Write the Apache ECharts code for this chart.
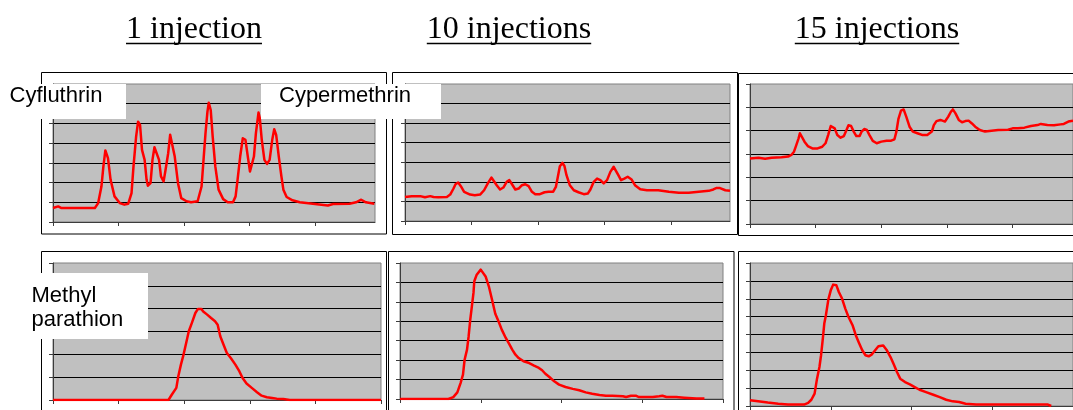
<!DOCTYPE html>
<html>
<head>
<meta charset="utf-8">
<script src="https://cdn.jsdelivr.net/npm/echarts@6/dist/echarts.min.js"></script>
<style>
  html, body { margin: 0; padding: 0; background: #ffffff; }
  #chart { width: 1073px; height: 410px; }
</style>
</head>
<body>
<div id="chart"></div>
<script>
// Column headings (number of injections) and compound labels
const injectionTitles = ['1 injection', '10 injections', '15 injections'];
const compoundLabels = ['Cyfluthrin', 'Cypermethrin', 'Methyl\nparathion'];

// Chromatogram traces: [retention, response]; retention in x-tick units, response in gridline units
const cyfluthrin1 = [[0,0.71],[0.08,0.79],[0.13,0.71],[0.64,0.71],[0.69,0.96],[0.74,1.80],[0.77,2.82],[0.80,3.63],[0.84,3.24],[0.88,2.14],[0.94,1.30],[1.02,0.96],[1.09,0.88],[1.15,0.93],[1.20,1.47],[1.23,2.82],[1.27,4.33],[1.30,5.09],[1.33,4.92],[1.36,3.66],[1.40,3.15],[1.43,2.14],[1.45,1.84],[1.49,1.97],[1.52,3.15],[1.55,3.79],[1.58,3.86],[1.62,3.15],[1.65,2.31],[1.69,2.06],[1.72,2.65],[1.76,3.49],[1.79,4.42],[1.82,4.33],[1.86,3.32],[1.91,1.97],[1.96,1.21],[2.04,1.05],[2.11,1.00],[2.21,1.05],[2.27,1.80],[2.30,3.15],[2.33,4.50],[2.36,5.60],[2.38,6.05],[2.41,5.68],[2.44,4.33],[2.48,2.82],[2.53,1.64],[2.60,1.16],[2.67,1.00],[2.75,1.00],[2.79,1.30],[2.82,2.14],[2.86,3.32],[2.90,4.25],[2.94,4.17],[2.98,3.24],[3.01,2.56],[3.04,2.48],[3.07,3.32],[3.10,4.50],[3.14,5.55],[3.16,5.26],[3.19,4.17],[3.23,3.15],[3.27,2.95],[3.31,3.15],[3.35,4.17],[3.38,4.71],[3.41,4.42],[3.45,3.32],[3.49,2.31],[3.52,1.64],[3.57,1.27],[3.66,1.10],[3.77,1.00],[3.97,0.93],[4.20,0.84],[4.28,0.91],[4.53,0.93],[4.63,1.00],[4.71,1.13],[4.78,1.00],[4.91,0.93]];

const cypermethrin10 = [[0,1.23],[0.10,1.27],[0.23,1.27],[0.30,1.21],[0.38,1.27],[0.43,1.23],[0.50,1.21],[0.63,1.23],[0.68,1.35],[0.73,1.66],[0.76,1.88],[0.80,1.97],[0.84,1.78],[0.89,1.49],[0.98,1.35],[1.05,1.32],[1.13,1.35],[1.19,1.57],[1.25,1.95],[1.30,2.22],[1.33,2.17],[1.38,1.83],[1.43,1.61],[1.48,1.71],[1.53,2.00],[1.57,2.09],[1.61,1.88],[1.66,1.61],[1.71,1.66],[1.76,1.83],[1.81,1.88],[1.86,1.78],[1.91,1.49],[1.96,1.37],[2.03,1.37],[2.10,1.47],[2.16,1.50],[2.23,1.50],[2.27,1.74],[2.30,2.26],[2.33,2.80],[2.37,2.97],[2.40,2.80],[2.43,2.34],[2.48,1.83],[2.54,1.57],[2.61,1.47],[2.69,1.37],[2.75,1.40],[2.79,1.61],[2.84,2.00],[2.89,2.17],[2.94,2.09],[2.99,1.92],[3.04,2.09],[3.09,2.51],[3.14,2.77],[3.17,2.68],[3.21,2.34],[3.25,2.09],[3.30,2.17],[3.35,2.26],[3.41,2.12],[3.46,1.83],[3.54,1.62],[3.64,1.57],[3.81,1.57],[3.97,1.49],[4.12,1.44],[4.27,1.44],[4.42,1.50],[4.57,1.54],[4.64,1.61],[4.69,1.69],[4.74,1.68],[4.82,1.57],[4.89,1.54]];

const cypermethrin15 = [[0,2.81],[0.13,2.84],[0.23,2.80],[0.33,2.84],[0.48,2.86],[0.58,2.89],[0.63,2.96],[0.67,3.10],[0.70,3.34],[0.74,3.67],[0.76,3.89],[0.79,3.81],[0.83,3.53],[0.88,3.34],[0.95,3.24],[1.03,3.24],[1.10,3.31],[1.15,3.46],[1.19,3.81],[1.23,4.20],[1.25,4.24],[1.29,4.10],[1.33,3.81],[1.38,3.70],[1.43,3.77],[1.47,4.03],[1.50,4.23],[1.54,4.20],[1.58,3.96],[1.62,3.77],[1.67,3.77],[1.70,3.96],[1.74,4.07],[1.78,4.03],[1.82,3.81],[1.87,3.56],[1.93,3.46],[2.00,3.53],[2.08,3.57],[2.15,3.57],[2.20,3.63],[2.23,3.96],[2.26,4.49],[2.30,4.86],[2.34,4.91],[2.38,4.60],[2.43,4.17],[2.48,3.96],[2.55,3.89],[2.63,3.81],[2.70,3.81],[2.77,3.96],[2.80,4.24],[2.84,4.41],[2.90,4.46],[2.97,4.39],[3.02,4.60],[3.06,4.81],[3.09,4.91],[3.13,4.74],[3.18,4.46],[3.23,4.36],[3.28,4.41],[3.33,4.43],[3.38,4.31],[3.43,4.17],[3.50,4.03],[3.58,3.96],[3.68,4.00],[3.78,4.03],[3.93,4.04],[4.00,4.10],[4.08,4.10],[4.18,4.13],[4.28,4.20],[4.38,4.24],[4.43,4.29],[4.53,4.24],[4.63,4.23],[4.73,4.27],[4.78,4.29],[4.85,4.39],[4.92,4.43]];

const methylParathion1 = [[0,0],[1.76,0],[1.81,0.23],[1.88,0.53],[1.91,1.04],[1.95,1.55],[1.99,1.99],[2.03,2.50],[2.07,3.01],[2.12,3.40],[2.17,3.81],[2.21,3.99],[2.26,3.99],[2.29,3.88],[2.35,3.74],[2.41,3.59],[2.47,3.45],[2.51,3.30],[2.55,2.79],[2.60,2.42],[2.65,2.06],[2.71,1.84],[2.78,1.55],[2.84,1.26],[2.89,0.96],[2.95,0.72],[3.03,0.53],[3.11,0.34],[3.18,0.19],[3.26,0.12],[3.34,0.09],[3.41,0.06],[3.51,0.04],[3.61,0],[5,0]];

const methylParathion10 = [[0,0],[0.60,0],[0.66,0.10],[0.71,0.34],[0.75,0.82],[0.78,1.25],[0.80,2.02],[0.83,2.54],[0.85,3.23],[0.87,4.08],[0.89,4.77],[0.91,5.46],[0.92,6.06],[0.95,6.40],[1.00,6.66],[1.02,6.62],[1.06,6.31],[1.10,5.80],[1.14,5.11],[1.18,4.39],[1.22,4.00],[1.26,3.57],[1.31,3.14],[1.35,2.85],[1.39,2.54],[1.43,2.28],[1.47,2.11],[1.53,1.94],[1.60,1.85],[1.66,1.72],[1.72,1.60],[1.76,1.48],[1.80,1.30],[1.85,1.13],[1.91,0.91],[1.97,0.74],[2.05,0.62],[2.14,0.52],[2.22,0.45],[2.30,0.34],[2.38,0.27],[2.47,0.21],[2.55,0.17],[2.63,0.17],[2.76,0.14],[2.80,0.10],[2.86,0.17],[2.92,0.17],[2.96,0.10],[3.13,0.10],[3.21,0.14],[3.25,0.17],[3.30,0.10],[3.42,0.10],[3.52,0.07],[3.67,0.03],[3.77,0.02]];

const methylParathion15 = [[0,0.32],[0.10,0.26],[0.22,0.19],[0.35,0.13],[0.47,0.09],[0.67,0.08],[0.72,0.17],[0.76,0.35],[0.80,0.69],[0.83,1.53],[0.86,2.18],[0.88,2.84],[0.90,3.68],[0.92,4.61],[0.94,5.08],[0.97,5.95],[1.00,6.47],[1.03,6.79],[1.07,6.75],[1.10,6.38],[1.14,6.01],[1.18,5.45],[1.22,4.98],[1.27,4.52],[1.31,3.96],[1.35,3.53],[1.39,3.12],[1.43,2.84],[1.47,2.78],[1.51,2.89],[1.55,3.12],[1.59,3.34],[1.65,3.38],[1.69,3.15],[1.74,2.74],[1.78,2.33],[1.82,1.90],[1.86,1.53],[1.92,1.34],[1.98,1.21],[2.04,1.06],[2.10,0.91],[2.18,0.78],[2.27,0.63],[2.35,0.50],[2.43,0.35],[2.51,0.26],[2.59,0.22],[2.67,0.13],[2.80,0.09],[2.92,0.08],[3.08,0.08],[3.29,0.08],[3.49,0.08],[3.69,0.08],[3.73,0]];

// Plot-area placement and axis extents for the six chromatograms (top row: pyrethroids, bottom row: methyl parathion)
const panels = [
  { data: cyfluthrin1,       grid: { left: 53,  top: 84,  width: 322, height: 138 }, xMax: 4.92, yMax: 7 },
  { data: cypermethrin10,    grid: { left: 405, top: 84,  width: 325, height: 137 }, xMax: 4.89, yMax: 7 },
  { data: cypermethrin15,    grid: { left: 750, top: 84,  width: 328, height: 140 }, xMax: 4.92, yMax: 6 },
  { data: methylParathion1,  grid: { left: 53,  top: 263, width: 328, height: 137 }, xMax: 5,    yMax: 6 },
  { data: methylParathion10, grid: { left: 400, top: 263, width: 323, height: 136 }, xMax: 4,    yMax: 7 },
  { data: methylParathion15, grid: { left: 750, top: 263, width: 327, height: 143 }, xMax: 4,    yMax: 8 }
];

const AXIS_DARK = '#3c3c3c';
const TRACE_RED = '#ff0000';

function integerTicks(max) {
  const t = [];
  for (let v = 0; v <= max + 1e-9; v += 1) t.push(v);
  return t;
}

const grids = panels.map(p => Object.assign({
  show: true,
  backgroundColor: '#c0c0c0',
  borderColor: '#808080',
  borderWidth: 1,
  containLabel: false
}, p.grid));

const xAxes = panels.map((p, i) => ({
  type: 'value',
  gridIndex: i,
  min: 0,
  max: p.xMax,
  interval: 1,
  axisLine: { show: true, lineStyle: { color: AXIS_DARK, width: 1 } },
  axisTick: { show: true, inside: false, length: 4, customValues: integerTicks(Math.floor(p.xMax)), lineStyle: { color: AXIS_DARK } },
  axisLabel: { show: false },
  splitLine: { show: false }
}));

const yAxes = panels.map((p, i) => ({
  type: 'value',
  gridIndex: i,
  min: 0,
  max: p.yMax,
  interval: 1,
  axisLine: { show: true, lineStyle: { color: AXIS_DARK, width: 1 } },
  axisTick: { show: true, inside: false, length: 4, lineStyle: { color: AXIS_DARK } },
  axisLabel: { show: false },
  splitLine: { show: true, showMaxLine: false, lineStyle: { color: '#000000', width: 1 } }
}));

const series = panels.map((p, i) => ({
  type: 'line',
  xAxisIndex: i,
  yAxisIndex: i,
  data: p.data,
  showSymbol: false,
  symbol: 'none',
  lineStyle: { color: TRACE_RED, width: 2.5, join: 'round' },
  itemStyle: { color: TRACE_RED },
  emphasis: { disabled: true },
  silent: true,
  animation: false
}));

// Headings: centered serif text with a drawn underline
const titleFont = '32px "Liberation Serif", "Times New Roman", serif';
const measureCtx = document.createElement('canvas').getContext('2d');
measureCtx.font = titleFont;
const titleCenters = [194, 509, 877];
const headingGraphics = [];
injectionTitles.forEach((t, i) => {
  const w = measureCtx.measureText(t).width;
  const cx = titleCenters[i];
  headingGraphics.push({
    type: 'text',
    x: cx, y: 30,
    style: { text: t, font: titleFont, fill: '#000', align: 'center', verticalAlign: 'middle' }
  });
  headingGraphics.push({
    type: 'rect',
    shape: { x: cx - w / 2, y: 42.8, width: w, height: 1.5 },
    style: { fill: '#000' }
  });
});

// Outer chart-area frames around each chromatogram
const frameStyle = { fill: 'none', stroke: '#000', lineWidth: 1 };
const frames = [
  { x: 41.5,  y: 72.5,  width: 345, height: 161.5 },
  { x: 392.5, y: 72.5,  width: 345, height: 162 },
  { x: 738.5, y: 73.5,  width: 345, height: 162 },
  { x: 41.5,  y: 251.5, width: 345, height: 170 },
  { x: 388.5, y: 251.5, width: 345.5, height: 170 },
  { x: 738.5, y: 251.5, width: 345, height: 170 }
].map(s => ({ type: 'rect', shape: s, style: frameStyle, silent: true }));

// Compound name boxes laid over the plots
const labelFont = '22px "Liberation Sans", Arial, sans-serif';
const labelBoxes = [
  { box: { x: 0,   y: 84,  width: 126, height: 35 }, tx: 9.5, ty: 95.5, text: compoundLabels[0], va: 'middle' },
  { box: { x: 261, y: 84,  width: 180, height: 35 }, tx: 279, ty: 95.5, text: compoundLabels[1], va: 'middle' },
  { box: { x: 25,  y: 273, width: 123, height: 66 }, tx: 31.5, ty: 283.5, text: compoundLabels[2], va: 'top' }
];
const labelGraphics = [];
labelBoxes.forEach(l => {
  labelGraphics.push({ type: 'rect', z: 100, shape: l.box, style: { fill: '#ffffff' }, silent: true });
  labelGraphics.push({
    type: 'text', z: 101, x: l.tx, y: l.ty,
    style: { text: l.text, font: labelFont, fill: '#000', align: 'left', verticalAlign: l.va, lineHeight: 24 }
  });
});

const chart = echarts.init(document.getElementById('chart'), null, { renderer: 'canvas' });
chart.setOption({
  animation: false,
  backgroundColor: '#ffffff',
  grid: grids,
  xAxis: xAxes,
  yAxis: yAxes,
  series: series,
  graphic: { elements: frames.concat(headingGraphics, labelGraphics) }
});
</script>
</body>
</html>
